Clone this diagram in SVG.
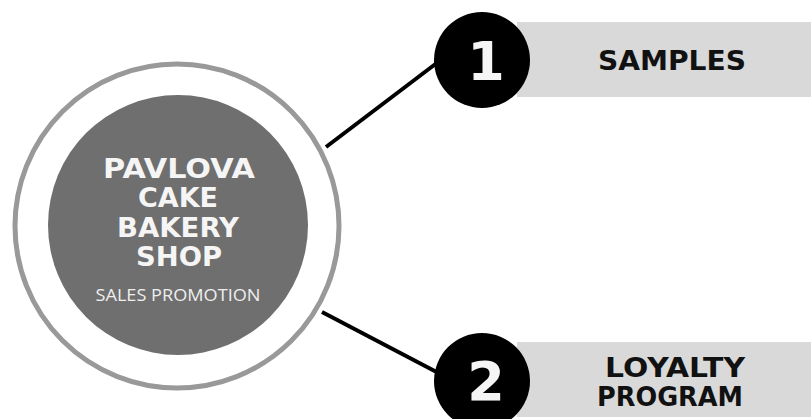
<svg xmlns="http://www.w3.org/2000/svg" width="811" height="419" viewBox="0 0 811 419">
<style>
.bar{fill:#d9d9d9}
.num{fill:#000}
.numt{font-family:"DejaVu Sans","Liberation Sans",sans-serif;font-weight:bold;font-size:54px;fill:#f5f5f5;text-anchor:middle}
.lbl{font-family:"DejaVu Sans","Liberation Sans",sans-serif;font-weight:bold;font-size:27px;fill:#111;text-anchor:middle}
.ct{font-family:"DejaVu Sans","Liberation Sans",sans-serif;font-weight:bold;font-size:27px;fill:#f5f5f5;text-anchor:middle}
.cs{font-family:"Open Sans","Liberation Sans",sans-serif;font-size:16px;fill:#eeeeee;text-anchor:middle}
.conn{stroke:#000;stroke-width:4;fill:none}
</style>
<rect width="811" height="419" fill="#fff"/>
<g id="connectors">
<line class="conn" x1="326" y1="147" x2="446" y2="56"/>
<line class="conn" x1="322" y1="312" x2="448" y2="378"/>
</g>
<g id="center">
<circle cx="177" cy="226" r="162" fill="#fff" stroke="#999" stroke-width="5"/>
<circle cx="178" cy="225" r="130" fill="#6f6f6f"/>
<text class="ct" x="179" y="178" textLength="152" lengthAdjust="spacingAndGlyphs">PAVLOVA</text>
<text class="ct" x="178" y="207" textLength="80" lengthAdjust="spacingAndGlyphs">CAKE</text>
<text class="ct" x="178" y="237" textLength="122" lengthAdjust="spacingAndGlyphs">BAKERY</text>
<text class="ct" x="179" y="266" textLength="86" lengthAdjust="spacingAndGlyphs">SHOP</text>
<text class="cs" x="178" y="301" textLength="165" lengthAdjust="spacingAndGlyphs">SALES PROMOTION</text>
</g>
<g id="item1">
<rect class="bar" x="517" y="22" width="294" height="75"/>
<circle class="num" cx="482" cy="60" r="48"/>
<text class="numt" x="486" y="80">1</text>
<text class="lbl" x="672" y="70" textLength="148" lengthAdjust="spacingAndGlyphs">SAMPLES</text>
</g>
<g id="item2">
<rect class="bar" x="517" y="342" width="294" height="75"/>
<circle class="num" cx="482" cy="381" r="48"/>
<text class="numt" x="486" y="400">2</text>
<text class="lbl" x="675" y="377" textLength="140" lengthAdjust="spacingAndGlyphs">LOYALTY</text>
<text class="lbl" x="670" y="406" textLength="146" lengthAdjust="spacingAndGlyphs">PROGRAM</text>
</g>
</svg>
